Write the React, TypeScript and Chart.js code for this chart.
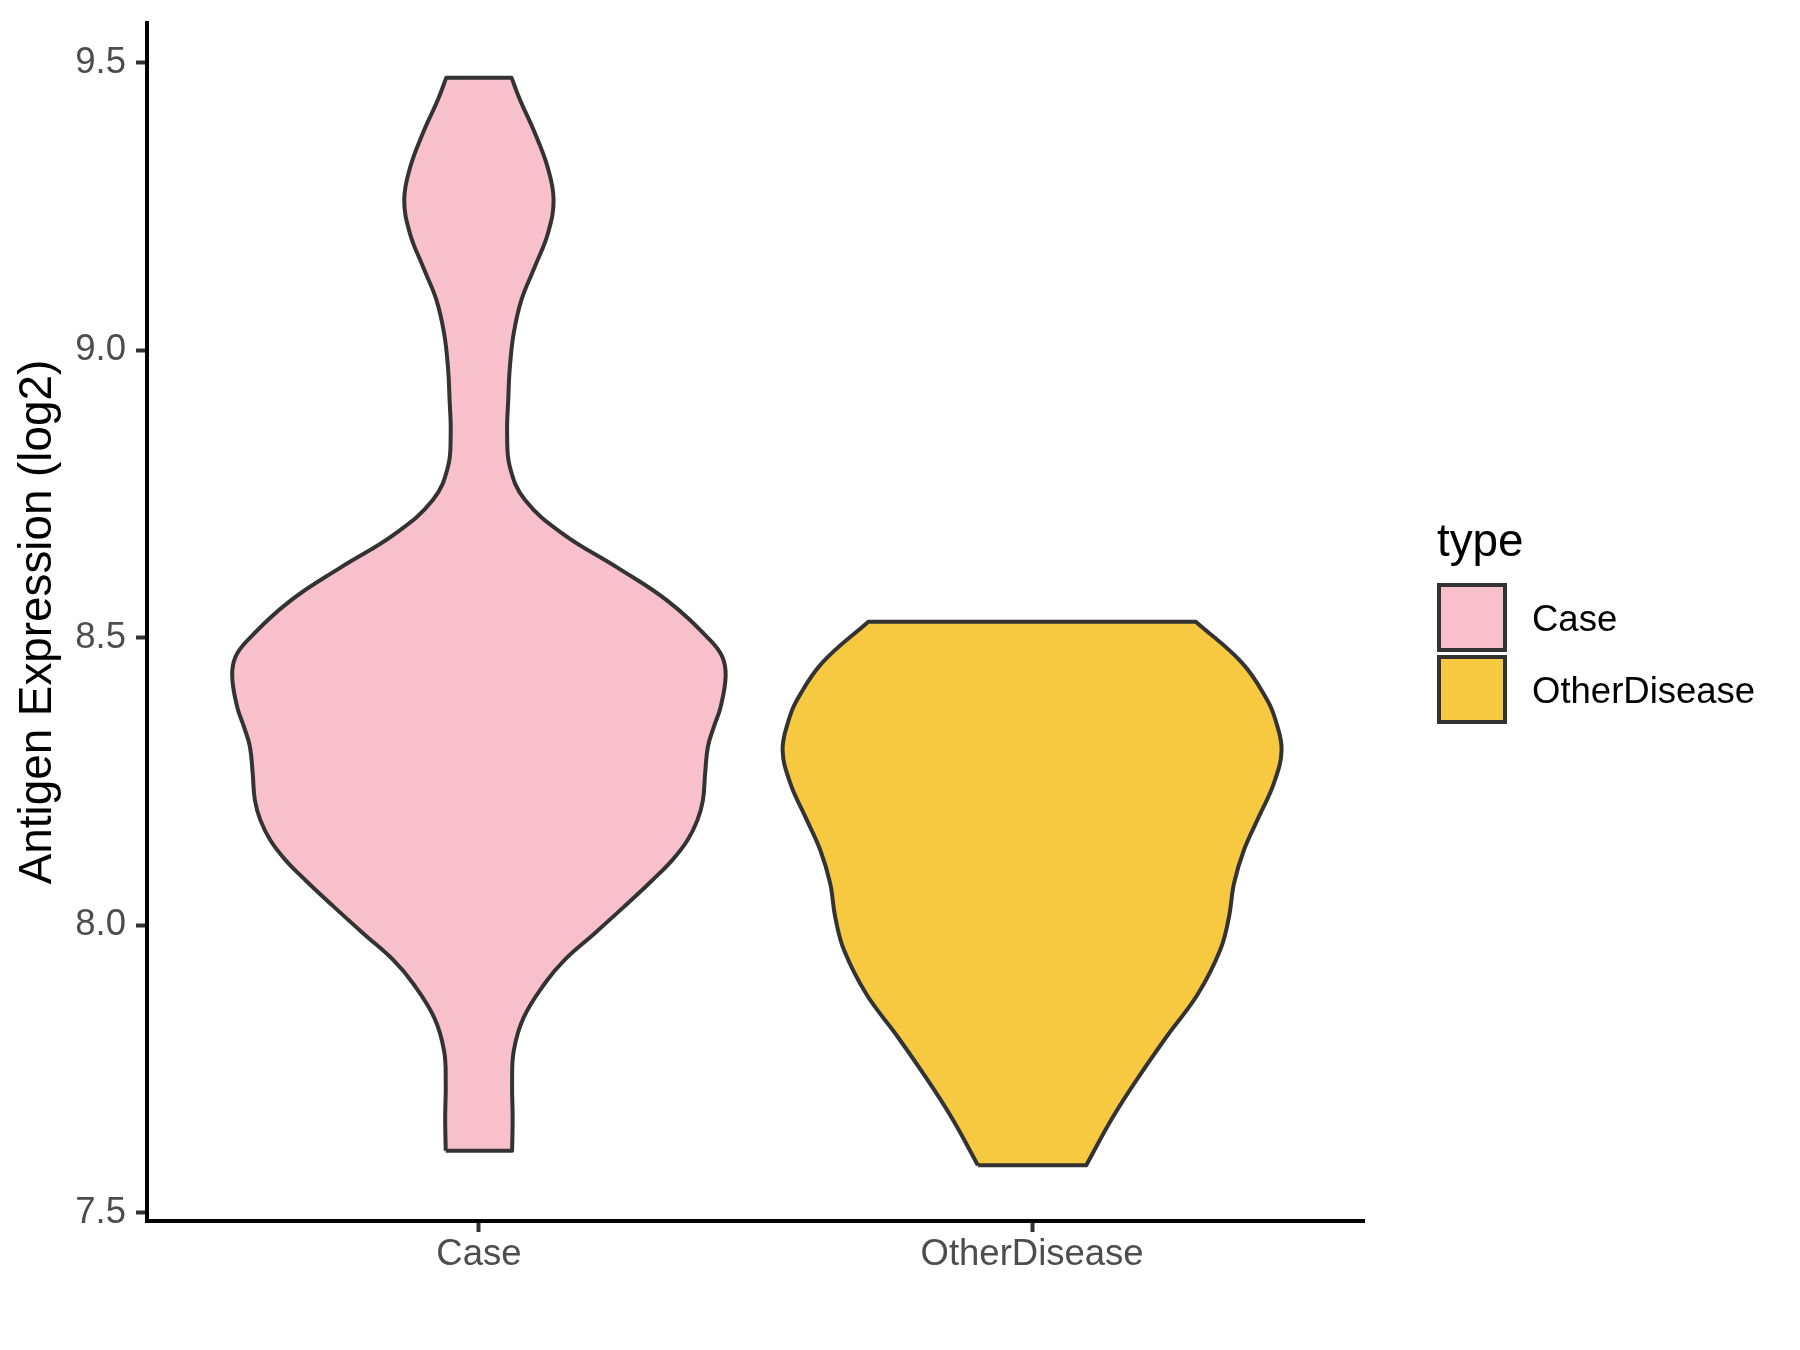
import React, { useEffect, useRef } from 'react';
import { Chart, registerables } from 'chart.js';

Chart.register(...registerables);

// ---- data ----
const categories = ['Case', 'OtherDisease'];
const categoryPositions = [1, 2];
const fillColors = ['#F7C0CB', '#F6C940'];
const outlineColor = '#333333';
const yTickValues = [7.5, 8.0, 8.5, 9.0, 9.5];
const yAxisTitle = 'Antigen Expression (log2)';
const legendTitle = 'type';

// Case violin: expression levels (bottom -> top) and half-widths (x units)
const caseLevels = [
  7.608, 7.666, 7.725, 7.782, 7.84, 7.899, 7.94, 7.986, 8.033, 8.079, 8.114, 8.148,
  8.183, 8.218, 8.265, 8.311, 8.346, 8.38, 8.433, 8.467, 8.496, 8.565, 8.623, 8.68,
  8.74, 8.797, 8.856, 8.913, 8.971, 9.03, 9.088, 9.145, 9.204, 9.262, 9.319, 9.378,
  9.436, 9.474,
];
const caseHalfWidths = [
  0.06, 0.061, 0.06, 0.063, 0.081, 0.119, 0.155, 0.209, 0.263, 0.314, 0.35, 0.377,
  0.395, 0.405, 0.409, 0.414, 0.425, 0.437, 0.446, 0.44, 0.418, 0.34, 0.249, 0.153,
  0.083, 0.056, 0.051, 0.053, 0.056, 0.063, 0.077, 0.101, 0.125, 0.135, 0.124, 0.101,
  0.074, 0.059,
];

// OtherDisease violin
const otherLevels = [
  7.583, 7.665, 7.737, 7.809, 7.881, 7.957, 8.015, 8.073, 8.131, 8.189, 8.247,
  8.305, 8.357, 8.392, 8.456, 8.528,
];
const otherHalfWidths = [
  0.098, 0.145, 0.193, 0.245, 0.3, 0.34, 0.356, 0.365, 0.383, 0.41, 0.437,
  0.451, 0.44, 0.425, 0.38, 0.296,
];

const FONT = '"Liberation Sans", Arial, Helvetica, sans-serif';

function violinPath(center: number, levels: number[], hw: number[]) {
  const left = levels.map((v, i) => ({ x: center - hw[i], y: v }));
  const right = levels.map((v, i) => ({ x: center + hw[i], y: v })).reverse();
  const bl = left[0];
  const tl = left[left.length - 1];
  const tr = right[0];
  const br = right[right.length - 1];
  // corners repeated so the smoothed outline keeps sharp flat caps
  return [bl, ...left, tl, tr, ...right, br, bl];
}

const legendPlugin = {
  id: 'typeLegend',
  afterDraw(chart: any) {
    const ctx = chart.ctx;
    ctx.save();
    ctx.textAlign = 'left';
    ctx.textBaseline = 'alphabetic';
    ctx.fillStyle = '#000000';
    ctx.font = `45.8px ${FONT}`;
    ctx.fillText(legendTitle, 1437, 556);
    categories.forEach((c, i) => {
      const y = 585 + i * 72;
      ctx.fillStyle = fillColors[i];
      ctx.fillRect(1439, y, 66, 65);
      ctx.strokeStyle = outlineColor;
      ctx.lineWidth = 4;
      ctx.strokeRect(1439, y, 66, 65);
      ctx.fillStyle = '#000000';
      ctx.font = `36.5px ${FONT}`;
      ctx.fillText(c, 1532, y + 32.5 + 13);
    });
    ctx.restore();
  },
};

export default function App() {
  const canvasRef = useRef<HTMLCanvasElement | null>(null);

  useEffect(() => {
    const canvas = canvasRef.current;
    if (!canvas) return;
    const datasets = [
      { level: caseLevels, hw: caseHalfWidths },
      { level: otherLevels, hw: otherHalfWidths },
    ].map((d, i) => ({
      label: categories[i],
      data: violinPath(categoryPositions[i], d.level, d.hw),
      showLine: true,
      fill: 'shape',
      backgroundColor: fillColors[i],
      borderColor: outlineColor,
      borderWidth: 4,
      borderJoinStyle: 'round',
      tension: 0.4,
      pointRadius: 0,
      pointHoverRadius: 0,
    }));

    const chart = new Chart(canvas, {
      type: 'scatter',
      data: { datasets } as any,
      options: {
        animation: false,
        responsive: false,
        maintainAspectRatio: false,
        devicePixelRatio: 1,
        layout: { padding: { left: 0, right: 436, top: 23, bottom: 0 } },
        plugins: {
          legend: { display: false },
          tooltip: { enabled: false },
        },
        scales: {
          x: {
            type: 'linear',
            min: 0.4,
            max: 2.6,
            afterBuildTicks: (s: any) => {
              s.ticks = categoryPositions.map((v) => ({ value: v }));
            },
            afterFit: (s: any) => {
              s.height = 129;
              s.paddingLeft = 0;
              s.paddingRight = 0;
            },
            ticks: {
              autoSkip: false,
              maxRotation: 0,
              padding: 1,
              color: '#4D4D4D',
              font: { family: FONT, size: 36.5 },
              callback: (_v: any, i: number) => categories[i],
            },
            grid: {
              display: true,
              drawOnChartArea: false,
              drawTicks: true,
              tickLength: 11,
              tickWidth: 4,
              tickColor: outlineColor,
              color: outlineColor,
            },
            border: { display: true, color: '#000000', width: 4 },
          },
          y: {
            type: 'linear',
            min: 7.486,
            max: 9.569,
            afterBuildTicks: (s: any) => {
              s.ticks = yTickValues.map((v) => ({ value: v }));
            },
            afterFit: (s: any) => {
              s.width = 147;
              s.paddingTop = 0;
              s.paddingBottom = 0;
            },
            ticks: {
              padding: 10,
              color: '#4D4D4D',
              font: { family: FONT, size: 36.5 },
              callback: (v: any) => Number(v).toFixed(1),
            },
            grid: {
              display: true,
              drawOnChartArea: false,
              drawTicks: true,
              tickLength: 11,
              tickWidth: 4,
              tickColor: outlineColor,
              color: outlineColor,
            },
            border: { display: true, color: '#000000', width: 4 },
            title: {
              display: true,
              text: yAxisTitle,
              color: '#000000',
              font: { family: FONT, size: 45.8 },
              padding: { top: 11, bottom: 0 },
            },
          },
        },
      } as any,
      plugins: [legendPlugin],
    });
    return () => chart.destroy();
  }, []);

  return (
    <div style={{ position: 'absolute', left: 0, top: 0, width: 1800, height: 1350, background: '#ffffff' }}>
      <canvas ref={canvasRef} width={1800} height={1350} style={{ display: 'block', width: 1800, height: 1350 }} />
    </div>
  );
}
